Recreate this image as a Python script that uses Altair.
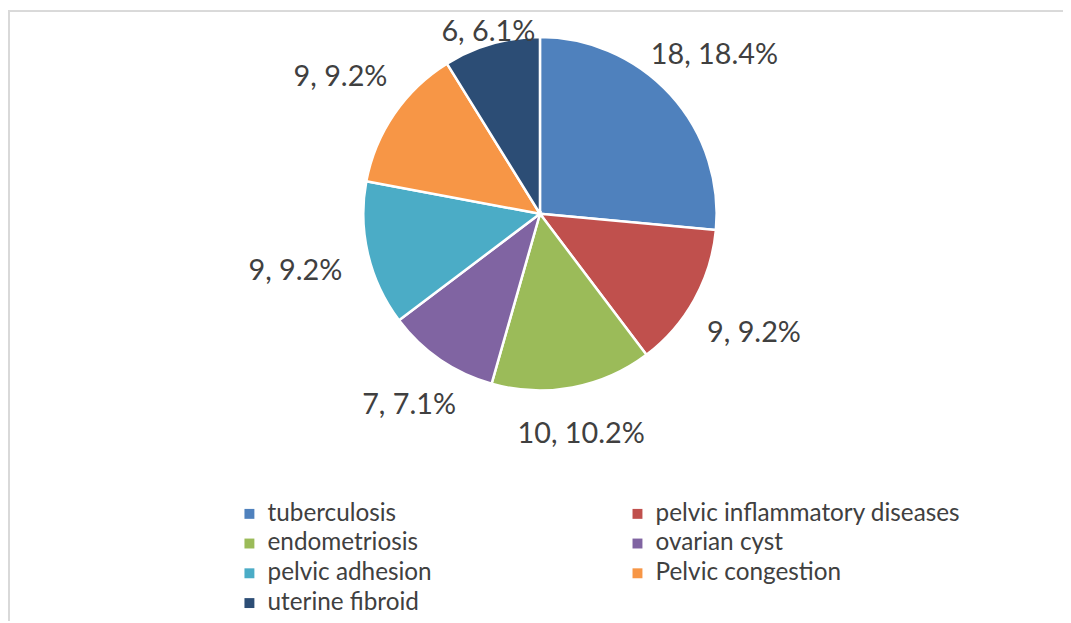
import altair as alt
import pandas as pd

categories = ["tuberculosis", "pelvic inflammatory diseases", "endometriosis",
              "ovarian cyst", "pelvic adhesion", "Pelvic congestion", "uterine fibroid"]
counts = [18, 9, 10, 7, 9, 9, 6]
percents = [18.4, 9.2, 10.2, 7.1, 9.2, 9.2, 6.1]
colors = ["#4F81BD", "#C0504D", "#9BBB59", "#8064A2", "#4BACC6", "#F79646", "#2C4D75"]

df = pd.DataFrame({
    "cat": categories,
    "n": counts,
    "pct": percents,
    "idx": list(range(len(categories))),
})
df["label"] = [f"{n}, {p}%" for n, p in zip(counts, percents)]

FONT = "Lato"
CX, CY, R = 536, 205, 178
W, H = 1063, 615

pie = alt.Chart(df).mark_arc(outerRadius=R, stroke="white", strokeWidth=2.5).encode(
    theta=alt.Theta("n:Q", stack=True),
    order=alt.Order("idx:Q"),
    x=alt.value(CX),
    y=alt.value(CY),
    color=alt.Color(
        "cat:N",
        scale=alt.Scale(domain=categories, range=colors),
        legend=alt.Legend(
            title=None, orient="none", legendX=231, legendY=495, columns=2,
            direction="horizontal", values=categories,
            symbolType="square", symbolSize=100, symbolStrokeWidth=0,
            labelFont=FONT, labelFontSize=24.5, labelColor="#404040",
            columnPadding=195, rowPadding=5, labelOffset=6, labelLimit=400,
        ),
    ),
)

labels = alt.Chart(df).transform_joinaggregate(total="sum(n)").transform_window(
    cum="sum(n)", sort=[alt.SortField("idx")], frame=[None, 0]
).transform_calculate(
    midv="datum.cum - datum.n / 2",
    mid="(datum.cum - datum.n / 2) / datum.total * 2 * PI",
    lr="1 / sqrt(pow(sin(datum.mid) / 255, 2) + pow(cos(datum.mid) / 225, 2))"
       " - 50 * pow(max(0, cos(datum.mid)), 8)",
).mark_text(font=FONT, fontSize=29, color="#404040").encode(
    theta=alt.Theta("midv:Q", stack=None),
    radius=alt.Radius("lr:Q", scale=None),
    x=alt.value(CX),
    y=alt.value(CY),
    text="label:N",
)

frame_top = alt.Chart(df).mark_rule(color="#d9d9d9", strokeWidth=1.5).encode(
    x=alt.value(0), x2=alt.value(W + 20), y=alt.value(1)
)
frame_left = alt.Chart(df).mark_rule(color="#d9d9d9", strokeWidth=1.5).encode(
    x=alt.value(1), y=alt.value(0), y2=alt.value(H)
)

chart = alt.layer(frame_top, frame_left, pie, labels).properties(
    width=W, height=H, padding=0, autosize="none"
).configure_view(stroke=None)

chart.save("out.html", embed_options={"renderer": "svg", "actions": False})
